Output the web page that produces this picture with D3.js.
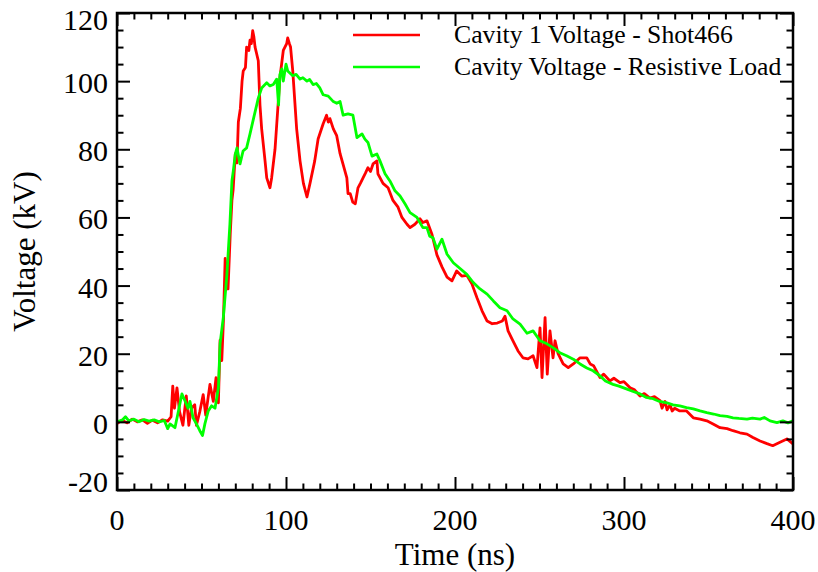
<!DOCTYPE html>
<html>
<head>
<meta charset="utf-8">
<script src="https://cdn.jsdelivr.net/npm/d3@7"></script>
<style>
  body { margin: 0; background: white; }
  text { font-family: "Liberation Serif", "Times New Roman", serif; }
</style>
</head>
<body>
<div id="container"></div>
<script>
let w = 818;
let h = 572;
let margin = { left: 117, right: 25, top: 13, bottom: 82 };

// DATA
let redTime = [0, 3, 6, 9, 12, 15, 18, 21, 24, 27, 30, 32, 33, 34, 35.5, 37, 39, 41, 42.5, 44, 46, 47, 49, 51, 52.5, 55, 57, 58.6, 60, 61, 62, 63, 64, 65.7, 67, 68, 68.7, 70, 71, 71.8, 73, 74, 74.7, 76, 76.7, 78, 78.7, 79.5, 80.3, 81, 81.7, 83.6, 84.6, 85.6, 87.6, 88.6, 90.5, 91.5, 93.5, 95.3, 96.4, 98.4, 100.4, 101, 102, 102.7, 104, 106.3, 108.3, 110.3, 112.4, 114.2, 117, 119, 122, 124, 125, 126, 128, 130, 132, 133.7, 136, 136.7, 138, 139.5, 141, 142.6, 144, 145.6, 147, 148.5, 150, 151.5, 153.8, 154.4, 157.4, 160.4, 163.3, 166.3, 168.6, 171.6, 173.4, 176.3, 179.3, 181, 183.4, 186.4, 189.3, 192.3, 195.3, 198.2, 201, 204, 207, 210, 213, 216, 219, 222, 225, 228, 229.6, 231.4, 234.3, 237.3, 240.2, 243.2, 246.2, 248.5, 250.3, 251.5, 253.3, 254.6, 256.2, 258, 259.2, 261, 264, 267, 270, 274, 278, 280, 282, 285.8, 288, 291.7, 294, 297.6, 300, 303.6, 306, 309.5, 312, 315.4, 318, 321.3, 322.5, 324.3, 325.5, 327.2, 328.5, 330, 333, 337, 341, 345, 349, 352.7, 356.8, 361, 364.5, 368.6, 372.8, 376.3, 380.5, 384.6, 388, 392.3, 396.4, 400];
let redVolt = [-0.5, 0.5, -0.3, 0.8, 0, 0.6, -0.4, 0.5, -0.3, 0.6, 0.2, 1.5, 10.5, 4, 10, 3, -1, 7.6, -1, 4, 5, -1, 3, 8, 2, 11, 6, 13, 5.6, 24, 18, 30, 48, 39, 55, 65, 68, 78.7, 76, 88, 92, 100, 103, 104, 110, 109, 112, 111, 114.8, 113, 110, 106, 93, 86, 76.6, 71.6, 68.7, 71.6, 80, 93, 101, 109, 111, 112.7, 111, 110, 103, 86, 76.6, 70, 66, 70, 76.6, 83, 87.5, 90, 88, 89, 86, 84, 78.7, 75.7, 71.6, 67, 67, 64.5, 64, 68.7, 70, 71.6, 73, 74.6, 73.5, 75.7, 76.6, 72.8, 70, 68.7, 65, 63, 60, 58, 57, 58, 59.6, 58.5, 59, 55, 49, 45.5, 42.5, 41.4, 44.3, 42.8, 43, 40.5, 36.4, 32.6, 29.6, 28.8, 29, 29.6, 31, 26.7, 23.8, 20.8, 18.8, 18.5, 19.4, 15.9, 27.6, 13, 30.6, 14, 26.7, 18.8, 23.8, 20, 17, 15.9, 17, 18.8, 18.8, 17, 16.5, 13, 14, 12, 12.8, 11.5, 11.8, 10, 9.5, 7.6, 8.3, 7, 7.4, 6.2, 4, 6, 3.5, 5, 3.2, 4, 3.2, 3.2, 1.2, 0.8, 0.3, -0.6, -1.7, -2, -2.6, -3.2, -3.6, -4.6, -5.6, -6.4, -7, -6, -5, -6.5];

let greenTime = [0, 3, 5, 7, 10, 13, 16, 19, 22, 25, 28, 30, 31.4, 34.3, 36, 38.4, 40.2, 42, 43.2, 45, 47, 49, 50.6, 52, 54, 56, 58, 60, 61, 62.9, 65, 66.8, 68, 68.8, 70, 71, 72.8, 74.6, 76.7, 78.7, 80.5, 83.6, 85.6, 88.6, 90.5, 92.5, 94.5, 95.6, 96.4, 97.5, 98.4, 100, 101, 104, 106, 108.3, 110, 112.4, 114, 116, 118, 120, 122, 125, 128, 130, 132, 133.8, 136.7, 139.6, 142, 145, 146.7, 148.5, 150.9, 153.8, 155.6, 158.6, 161.5, 164.5, 167.5, 170.4, 173.4, 177.5, 181, 183.4, 185, 187, 189.3, 192.3, 195.3, 199, 203, 207, 210.8, 214.8, 219, 222.7, 226.6, 230.8, 234.3, 238.5, 242.6, 246.2, 250.3, 254.4, 258, 262, 266, 270, 274, 278, 281.7, 285.8, 289, 293.5, 297, 301.8, 305, 309.5, 313, 317.2, 321, 325.4, 329, 333, 337, 341, 345, 349, 353, 356.8, 361, 364.5, 368, 372.8, 376, 380.5, 383, 386.4, 390.5, 394, 397, 400];
let greenVolt = [0, 0.5, 1.5, 0.3, 0.8, 0, 0.7, 0.2, 0.6, 0, 0.4, -2, -0.6, -1.7, 2.3, 8.2, 6.2, 4, 6, 1.2, -0.6, -2.6, -4, -0.6, 3.2, 4.7, 4, 10, 23, 30.6, 43, 58, 70.7, 73.6, 78.6, 80.4, 75.7, 79.5, 80.4, 84.5, 88.4, 95, 98, 99.5, 98.6, 99, 100.6, 93, 102, 103.6, 100, 105, 103, 101.6, 102, 100.6, 101, 100, 100.5, 99, 99.3, 98, 96, 95.6, 94, 93.5, 94, 90, 90.4, 90, 83.4, 84.5, 83, 82, 78, 78.6, 76.6, 72.8, 70.7, 67.8, 66.3, 64, 61.4, 60, 57, 57, 54.5, 54, 50.7, 53.6, 49.2, 46.7, 45, 43.3, 40.9, 39, 37.5, 35.5, 33.5, 32.6, 30.2, 28.7, 26, 26.7, 23.8, 22.9, 21.8, 20.3, 19.4, 18.4, 17, 15.8, 15, 13.5, 12, 11, 10.5, 9.6, 9, 8.2, 7.2, 6.8, 6, 5.6, 5, 4.7, 4.2, 3.8, 3.2, 2.7, 2.3, 1.8, 1.6, 1.2, 1.0, 0.8, 1.1, 0.8, 1.3, 0.3, -0.2, 0.3, -0.3, 0.3];

let xTicks = [0, 100, 200, 300, 400];
let yTicks = [-20, 0, 20, 40, 60, 80, 100, 120];
let seriesNames = ["Cavity 1 Voltage - Shot466", "Cavity Voltage - Resistive Load"];
let seriesColors = ["#ff0000", "#00ff00"];

// SVG
let viz = d3.select("#container").append("svg")
  .attr("width", w)
  .attr("height", h)
  .style("background-color", "white");

let x = d3.scaleLinear().domain([0, 400]).range([margin.left, w - margin.right]);
let y = d3.scaleLinear().domain([-20, 120]).range([h - margin.bottom, margin.top]);

let xMinor = d3.range(0, 401, 10).filter(d => d % 100 != 0);
let yMinor = d3.range(-20, 121, 5).filter(d => d % 20 != 0);

// lines
let red = redTime.map((t, i) => [t, redVolt[i]]);
let green = greenTime.map((t, i) => [t, greenVolt[i]]);
let lineMaker = d3.line().x(d => x(d[0])).y(d => y(d[1]));

viz.append("path").attr("d", lineMaker(red))
  .attr("fill", "none").attr("stroke", seriesColors[0]).attr("stroke-width", 2.8).attr("stroke-linejoin", "round");
viz.append("path").attr("d", lineMaker(green))
  .attr("fill", "none").attr("stroke", seriesColors[1]).attr("stroke-width", 2.8).attr("stroke-linejoin", "round");

// axes, ticks inward on all four sides
function styleAxis(g) {
  g.select(".domain").remove();
  g.selectAll(".tick line").attr("stroke", "black").attr("stroke-width", 2);
}
let plotH = h - margin.bottom - margin.top;
let plotW = w - margin.left - margin.right;

viz.append("g").attr("transform", `translate(0,${h - margin.bottom})`)
  .call(d3.axisBottom(x).tickValues(xTicks).tickSize(-13).tickFormat("")).call(styleAxis);
viz.append("g").attr("transform", `translate(0,${h - margin.bottom})`)
  .call(d3.axisBottom(x).tickValues(xMinor).tickSize(-6.5).tickFormat("")).call(styleAxis);
viz.append("g").attr("transform", `translate(0,${margin.top})`)
  .call(d3.axisTop(x).tickValues(xTicks).tickSize(-13).tickFormat("")).call(styleAxis);
viz.append("g").attr("transform", `translate(0,${margin.top})`)
  .call(d3.axisTop(x).tickValues(xMinor).tickSize(-6.5).tickFormat("")).call(styleAxis);
viz.append("g").attr("transform", `translate(${margin.left},0)`)
  .call(d3.axisLeft(y).tickValues(yTicks).tickSize(-13).tickFormat("")).call(styleAxis);
viz.append("g").attr("transform", `translate(${margin.left},0)`)
  .call(d3.axisLeft(y).tickValues(yMinor).tickSize(-6.5).tickFormat("")).call(styleAxis);
viz.append("g").attr("transform", `translate(${w - margin.right},0)`)
  .call(d3.axisRight(y).tickValues(yTicks).tickSize(-13).tickFormat("")).call(styleAxis);
viz.append("g").attr("transform", `translate(${w - margin.right},0)`)
  .call(d3.axisRight(y).tickValues(yMinor).tickSize(-6.5).tickFormat("")).call(styleAxis);

viz.append("rect")
  .attr("x", margin.left).attr("y", margin.top)
  .attr("width", plotW).attr("height", plotH)
  .attr("fill", "none").attr("stroke", "black").attr("stroke-width", 2.5);

// tick labels
viz.selectAll(".xlabel").data(xTicks).enter()
  .append("text")
  .attr("class", "xlabel")
  .attr("x", d => x(d))
  .attr("y", 530)
  .attr("text-anchor", "middle")
  .attr("font-size", 30)
  .text(d => d);

viz.selectAll(".ylabel").data(yTicks).enter()
  .append("text")
  .attr("class", "ylabel")
  .attr("x", 108)
  .attr("y", d => Math.min(Math.max(y(d) + 12, 30), 492))
  .attr("text-anchor", "end")
  .attr("font-size", 30)
  .text(d => d);

// axis titles
viz.append("text")
  .attr("x", x(200)).attr("y", 565)
  .attr("text-anchor", "middle").attr("font-size", 31)
  .text("Time (ns)");
viz.append("text")
  .attr("transform", `translate(35,${(margin.top + h - margin.bottom) / 2}) rotate(-90)`)
  .attr("text-anchor", "middle").attr("font-size", 31)
  .text("Voltage (kV)");

// legend
seriesNames.forEach((name, i) => {
  let ly = 35 + i * 32;
  viz.append("line")
    .attr("x1", 353).attr("x2", 420).attr("y1", ly).attr("y2", ly)
    .attr("stroke", seriesColors[i]).attr("stroke-width", 2.6);
  viz.append("text")
    .attr("x", 454).attr("y", ly + 8)
    .attr("font-size", 25.7)
    .text(name);
});
</script>
</body>
</html>
